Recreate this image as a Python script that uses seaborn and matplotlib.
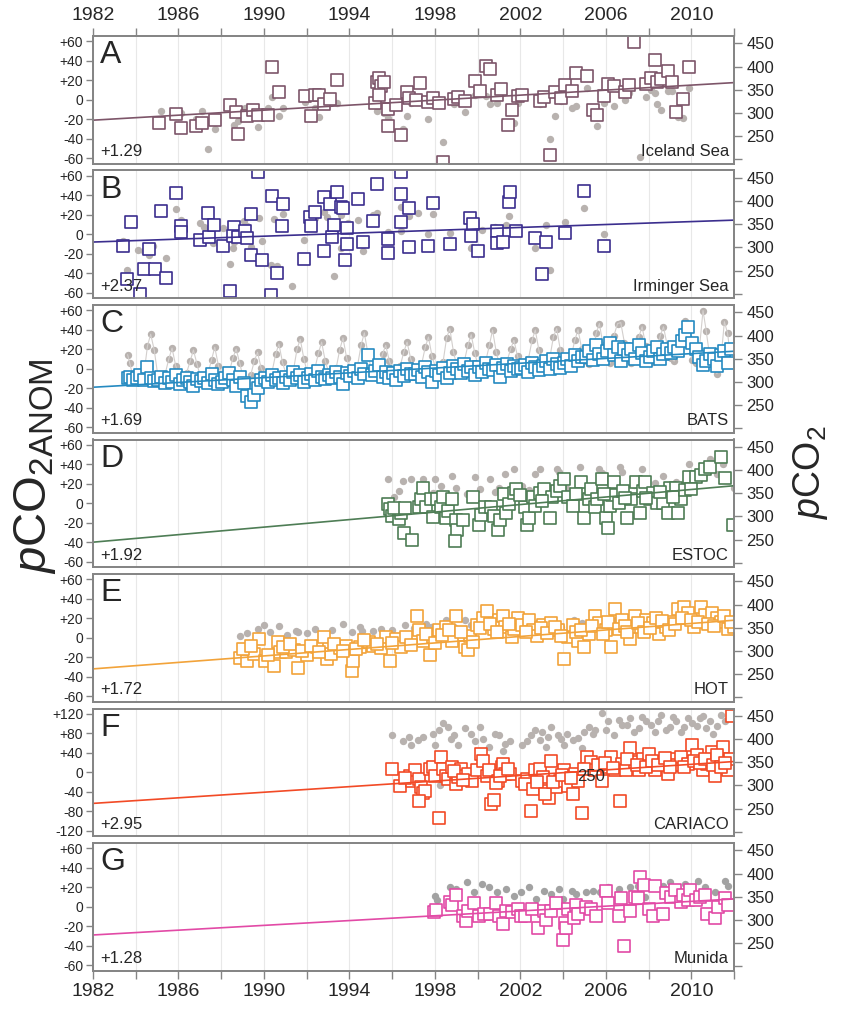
import numpy as np
import matplotlib
matplotlib.use("Agg")
import matplotlib.pyplot as plt
import seaborn as sns

# 1. Data
# Iceland Sea: squares = pCO2 anomaly (left axis), dots = pCO2 (right axis)
iceland_sq_year = [1985.1, 1985.9, 1986.1, 1986.8, 1987.1, 1987.7, 1988.4, 1988.7, 1988.8, 1989.2,
                   1989.5, 1989.7, 1990.2, 1990.4, 1990.7, 1991.9, 1992.2, 1992.4, 1992.6, 1992.8,
                   1993.1, 1993.4, 1995.2, 1995.3, 1995.4, 1995.5, 1995.6, 1995.4, 1995.8, 1995.8,
                   1996.2, 1996.4, 1996.7, 1996.8, 1997.1, 1997.3, 1997.7, 1997.9, 1998.2, 1998.4,
                   1998.9, 1999.1, 1999.4, 1999.9, 2000.1, 2000.4, 2000.6, 2000.9, 2001.1, 2001.6,
                   2001.4, 2001.9, 2002.1, 2002.9, 2003.1, 2003.4, 2003.6, 2003.9, 2004.1, 2004.4,
                   2004.6, 2005.1, 2005.4, 2005.6, 2005.9, 2006.1, 2006.4, 2006.9, 2007.1, 2007.3,
                   2007.9, 2008.1, 2008.3, 2008.4, 2008.6, 2008.9, 2009.1, 2009.3, 2009.6, 2009.9]
iceland_sq_anom = [-24, -15, -29, -27, -24, -21, -5, -13, -35, -17,
                   -11, -16, -16, 34, 8, 4, -17, 5, 5, -4,
                   1, 20, -3, 18, 22, 14, 18, 5, -9, -27,
                   -5, -36, 8, 2, 0, 17, -2, 2, -3, -64,
                   1, 3, -1, 19, 9, 35, 32, 5, 11, -11,
                   -26, 4, 5, -1, 3, -57, 8, 2, 15, 9,
                   27, 24, -11, -16, 4, 16, 14, 8, 15, 59,
                   16, 22, 41, 18, 21, 30, 18, -13, 1, 34]
iceland_dot_year = [1985.2, 1986.1, 1986.8, 1987.1, 1987.4, 1987.7, 1988.6, 1988.8, 1989.1, 1989.7,
                    1990.2, 1990.4, 1990.7, 1990.9, 1991.9, 1992.4, 1992.6, 1993.4, 1995.3, 1995.6,
                    1995.8, 1996.1, 1996.5, 1996.7, 1996.9, 1997.7, 1998.4, 1998.9, 1999.4, 1999.9,
                    2000.4, 2000.6, 2000.9, 2001.7, 2001.9, 2002.9, 2003.4, 2003.6, 2003.9, 2004.4,
                    2004.6, 2005.1, 2005.6, 2005.9, 2006.4, 2006.9, 2007.1, 2007.6, 2007.9, 2008.1,
                    2008.3, 2008.4, 2008.6, 2008.9, 2009.1, 2009.4, 2009.6, 2009.9]
iceland_dot_pco2 = [304, 299, 288, 304, 223, 265, 273, 282, 311, 269,
                    311, 334, 294, 311, 324, 311, 291, 321, 305, 300,
                    290, 324, 265, 294, 322, 286, 237, 319, 301, 339,
                    336, 319, 322, 278, 322, 319, 244, 294, 326, 311,
                    315, 353, 271, 322, 316, 328, 344, 204, 335, 349,
                    344, 319, 307, 347, 347, 291, 290, 353]

# Irminger Sea
irminger_sq_year = [1983.4, 1983.8, 1983.6, 1984.2, 1984.6, 1984.4, 1984.9, 1985.2, 1985.4, 1985.9,
                    1986.1, 1986.1, 1987.0, 1987.4, 1987.45, 1987.65, 1988.1, 1988.4, 1988.6, 1988.55,
                    1988.8, 1989.1, 1989.2, 1989.4, 1989.4, 1989.7, 1989.9, 1990.4, 1990.35, 1990.6,
                    1990.9, 1990.85, 1991.86, 1992.15, 1992.2, 1992.4, 1992.8, 1992.8, 1993.1, 1993.2,
                    1993.3, 1993.4, 1993.6, 1993.7, 1993.8, 1993.9, 1993.9, 1994.4, 1994.65, 1995.1,
                    1995.3, 1995.8, 1995.8, 1996.4, 1996.4, 1996.4, 1996.8, 1996.8, 1997.7, 1997.9,
                    1998.7, 1999.65, 1999.8, 1999.7, 2000.0, 2000.9, 2000.9, 2001.2, 2001.45, 2001.5,
                    2001.8, 2002.7, 2003.0, 2003.2, 2004.1, 2005.0, 2005.9]
irminger_sq_anom = [-12, 13, -46, -61, -15, -36, -36, 24, -45, 42,
                    8, 2, -6, 22, -3, 10, -12, -58, 7, -2,
                    -3, 3, -4, 21, -21, 64, -26, 39, -62, -40,
                    31, 8, -25, 18, 8, 23, -17, 38, 31, -3,
                    9, 43, 28, 27, -26, -10, 6, 36, -8, 14,
                    52, -5, -19, 64, 41, 13, 27, -13, -12, 32,
                    -10, 17, 11, -2, -17, 3, -9, -8, 33, 43,
                    3, -4, -41, -8, 1, 44, -12]
irminger_dot_year = [1983.4, 1983.6, 1984.1, 1984.4, 1984.6, 1984.8, 1985.4, 1985.9, 1986.1, 1986.15,
                     1987.0, 1987.2, 1987.4, 1987.6, 1988.1, 1988.4, 1988.55, 1988.6, 1989.05, 1989.2,
                     1989.4, 1989.75, 1989.9, 1990.45, 1990.35, 1990.6, 1990.9, 1991.3, 1991.86, 1992.2,
                     1992.4, 1992.8, 1992.95, 1993.1, 1993.3, 1993.6, 1993.6, 1993.8, 1993.95, 1994.4,
                     1994.65, 1995.1, 1995.3, 1995.8, 1996.4, 1996.4, 1996.8, 1997.2, 1997.7, 1997.9,
                     1998.7, 1999.7, 1999.75, 2000.2, 2000.8, 2001.45, 2001.35, 2002.7, 2003.0, 2003.2,
                     2003.4, 2004.1, 2005.0, 2005.9]
irminger_dot_pco2 = [313, 252, 294, 292, 284, 304, 278, 383, 360, 351,
                     353, 345, 336, 309, 343, 265, 299, 311, 357, 347,
                     301, 364, 315, 362, 263, 261, 372, 217, 316, 371,
                     364, 376, 366, 322, 238, 370, 299, 315, 353, 360,
                     292, 370, 374, 334, 387, 335, 368, 374, 328, 372,
                     331, 299, 301, 337, 345, 368, 349, 298, 250, 349,
                     252, 355, 386, 330]

# BATS: dots and squares share sampling times
bats_time = [1983.62, 1983.72, 1983.87,
             1984.05, 1984.20, 1984.38, 1984.55, 1984.70, 1984.87,
             1985.05, 1985.20, 1985.38, 1985.55, 1985.70, 1985.87,
             1986.05, 1986.20, 1986.38, 1986.55, 1986.70, 1986.87,
             1987.05, 1987.20, 1987.38, 1987.55, 1987.70, 1987.87,
             1988.05, 1988.20, 1988.38, 1988.55, 1988.70, 1988.87,
             1989.05, 1989.20, 1989.38, 1989.55, 1989.70, 1989.87,
             1990.05, 1990.20, 1990.38, 1990.55, 1990.70, 1990.87,
             1991.05, 1991.20, 1991.38, 1991.55, 1991.70, 1991.87,
             1992.05, 1992.20, 1992.38, 1992.55, 1992.70, 1992.87,
             1993.05, 1993.20, 1993.38, 1993.55, 1993.70, 1993.87,
             1994.05, 1994.20, 1994.38, 1994.55, 1994.70, 1994.87,
             1995.05, 1995.20, 1995.38, 1995.55, 1995.70, 1995.87,
             1996.05, 1996.20, 1996.38, 1996.55, 1996.70, 1996.87,
             1997.05, 1997.20, 1997.38, 1997.55, 1997.70, 1997.87,
             1998.05, 1998.20, 1998.38, 1998.55, 1998.70, 1998.87,
             1999.05, 1999.20, 1999.38, 1999.55, 1999.70, 1999.87,
             2000.05, 2000.20, 2000.38, 2000.55, 2000.70, 2000.87,
             2001.05, 2001.20, 2001.38, 2001.55, 2001.70, 2001.87,
             2002.05, 2002.20, 2002.38, 2002.55, 2002.70, 2002.87,
             2003.05, 2003.20, 2003.38, 2003.55, 2003.70, 2003.87,
             2004.05, 2004.20, 2004.38, 2004.55, 2004.70, 2004.87,
             2005.05, 2005.20, 2005.38, 2005.55, 2005.70, 2005.87,
             2006.05, 2006.20, 2006.38, 2006.55, 2006.70, 2006.87,
             2007.05, 2007.20, 2007.38, 2007.55, 2007.70, 2007.87,
             2008.05, 2008.20, 2008.38, 2008.55, 2008.70, 2008.87,
             2009.05, 2009.20, 2009.38, 2009.55, 2009.70, 2009.87,
             2010.05, 2010.20, 2010.38, 2010.55, 2010.70, 2010.87,
             2011.05, 2011.20, 2011.38, 2011.55, 2011.70, 2011.87]
bats_pco2 = [359, 340, 312,
             308, 300, 315, 378, 403, 368,
             308, 300, 318, 350, 373, 335,
             310, 302, 320, 345, 369, 338,
             308, 300, 318, 348, 375, 335,
             310, 302, 322, 352, 371, 340,
             305, 296, 315, 345, 364, 330,
             312, 305, 322, 360, 382, 342,
             315, 308, 325, 371, 392, 350,
             316, 308, 328, 362, 386, 345,
             318, 310, 330, 370, 395, 352,
             322, 315, 335, 380, 406, 360,
             322, 315, 332, 360, 379, 345,
             323, 315, 335, 365, 386, 350,
             325, 318, 338, 375, 397, 355,
             328, 320, 342, 395, 415, 365,
             330, 322, 345, 380, 402, 362,
             330, 322, 345, 379, 412, 365,
             333, 325, 345, 372, 390, 355,
             335, 328, 350, 390, 412, 368,
             338, 330, 352, 398, 415, 370,
             340, 333, 355, 390, 413, 372,
             345, 338, 360, 405, 426, 380,
             348, 340, 400, 426, 428, 385,
             348, 340, 362, 398, 419, 378,
             350, 342, 365, 400, 419, 380,
             352, 345, 368, 410, 432, 385,
             348, 340, 372, 454, 410, 352,
             335, 318, 345, 430, 405, 340]
bats_anom = [-10, -8, -12,
             -10, -6, -12, 2, -9, -13,
             -12, -8, -15, -10, -14, -6,
             -16, -12, -9, -14, -18, -11,
             -13, -9, -15, -5, -12, -16,
             -14, -10, -4, -12, -18, -8,
             -15, -28, -34, -27, -20, -12,
             -10, -14, -6, -12, -9, -15,
             -8, -12, -3, -10, -6, -14,
             -9, -5, -12, -2, -8, -11,
             -6, -10, -3, -8, -16, -4,
             -7, -2, -10, 0, -5, 14,
             -6, -2, 4, -8, -3, -10,
             -4, -12, -2, -7, 0, -5,
             -5, -1, -8, 2, -3, -14,
             -2, -6, 1, -9, -4, 3,
             0, -4, 5, -2, 2, -6,
             2, -3, 6, 0, -1, 4,
             -8, 1, 5, -2, 3, 0,
             1, 4, -3, 6, 2, -1,
             3, 8, 0, 10, 5, 1,
             6, 10, 3, 14, 8, 12,
             12, 18, 9, 24, 15, 10,
             18, 26, 14, 22, 8, 20,
             14, 20, 10, 24, 16, 8,
             12, 18, 22, 10, 15, 20,
             16, 22, 18, 28, 35, 43,
             26, 20, 12, 4, 8, 15,
             10, 3, 14, 18, 6, 20]

# ESTOC
estoc_sq_year = [1995.8, 1995.9, 1996.0, 1996.3, 1996.4, 1996.55, 1996.95, 1996.1, 1996.6, 1997.25,
                 1997.35, 1997.45, 1997.6, 1997.8, 1997.9, 1998.1, 1998.3, 1998.4, 1998.5, 1998.6,
                 1998.8, 1999.0, 1999.05, 1998.95, 1999.3, 1999.8, 2000.06, 2000.15, 2000.35, 2000.65,
                 2000.75, 2000.95, 2001.05, 2001.25, 2001.35, 2001.45, 2001.7, 2001.8, 2002.2, 2002.3,
                 2002.4, 2002.6, 2002.7, 2002.9, 2003.1, 2003.4, 2003.5, 2003.7, 2003.85, 2004.05,
                 2004.25, 2004.45, 2004.85, 2005.0, 2005.2, 2005.3, 2005.5, 2005.6, 2005.8, 2006.0,
                 2006.1, 2006.2, 2006.3, 2006.4, 2006.6, 2006.8, 2007.0, 2007.2, 2007.4, 2007.6,
                 2007.75, 2007.85, 2008.05, 2008.2, 2008.4, 2008.7, 2008.9, 2009.0, 2009.3, 2009.4,
                 2009.5, 2009.9, 2010.2, 2010.45, 2010.65, 2010.9, 2011.4, 2011.6, 2011.95, 2002.0,
                 2003.0, 2004.6, 2005.9, 2006.9, 2007.9, 2008.55, 2009.15, 2009.7, 2010.0]
estoc_sq_anom = [-1, -6, -13, -16, -10, -31, -38, -5, -5, -4,
                 4, 16, -4, 4, -14, 4, -4, 6, -15, -8,
                 4, -17, -27, -39, -17, 6, -22, -12, -4, -4,
                 -13, -27, -17, 9, -10, -1, 11, 15, -4, -22,
                 -15, 6, -3, 11, 15, -15, 6, 13, 18, 25,
                 6, -3, 22, -15, 4, 15, -4, 4, 25, -15,
                 -25, -3, 8, 22, 0, 13, -15, 4, 22, -10,
                 13, 22, 4, 11, 0, 0, -10, 16, 16, -10,
                 4, 27, 27, 29, 35, 37, 48, 26, -22, 8,
                 2, 10, 9, 5, 5, 12, 6, 14, 15]
estoc_dot_year = [1995.8, 1996.1, 1996.5, 1996.9, 1997.45, 1998.0, 1998.3, 1998.8, 1999.0, 1999.9,
                  2000.1, 2000.6, 2001.0, 2001.3, 2001.7, 2002.1, 2002.7, 2002.9, 2003.7, 2003.8,
                  2004.8, 2005.7, 2005.8, 2006.65, 2006.75, 2007.7, 2008.7, 2009.9, 2010.9, 2011.5,
                  2012.0, 1996.3, 1997.9, 1999.5, 2000.8, 2002.4, 2004.2, 2005.2, 2006.3, 2007.3,
                  2008.3, 2009.3, 2010.3, 2011.2]
estoc_dot_pco2 = [381, 341, 376, 380, 380, 380, 366, 388, 362, 385,
                  360, 380, 362, 391, 403, 366, 391, 403, 403, 395,
                  406, 403, 393, 406, 395, 403, 388, 414, 425, 414,
                  362, 355, 350, 348, 352, 358, 360, 362, 365, 368,
                  372, 375, 385, 392]

# HOT
hot_sq_year = [1988.9, 1989.2, 1989.55, 1989.75, 1990.05, 1990.45, 1990.65, 1990.75, 1991.05, 1991.4,
               1991.6, 1992.0, 1992.5, 1992.8, 1992.95, 1993.15, 1993.55, 1993.85, 1994.1, 1994.15,
               1994.5, 1994.9, 1995.1, 1995.5, 1995.7, 1995.9, 1996.2, 1996.4, 1996.65, 1997.15,
               1997.25, 1997.45, 1997.75, 1997.9, 1998.2, 1998.5, 1998.8, 1999.0, 1999.4, 1999.55,
               1999.65, 1999.95, 2000.25, 2000.45, 2000.75, 2001.0, 2001.2, 2001.3, 2001.6, 2001.7,
               2001.9, 2002.1, 2002.4, 2002.6, 2002.8, 2003.05, 2003.45, 2003.75, 2004.05, 2004.25,
               2004.45, 2004.7, 2005.0, 2005.2, 2005.5, 2005.7, 2006.0, 2006.25, 2006.45, 2006.75,
               2007.15, 2007.35, 2007.65, 2007.9, 2008.2, 2008.5, 2008.8, 2009.1, 2009.4, 2009.65,
               2009.85, 2010.15, 2010.45, 2010.65, 2010.95, 2011.2, 2011.4, 2011.7, 2012.0,
               1989.0, 1989.4, 1990.2, 1990.9, 1991.2, 1991.8, 1992.2, 1992.6, 1993.3, 1993.7,
               1994.3, 1994.7, 1995.3, 1996.0, 1996.9, 1997.6, 1998.0, 1998.35, 1998.65, 1999.2,
               1999.8, 2000.1, 2000.6, 2000.9, 2001.45, 2002.25, 2002.95, 2003.25, 2003.6, 2003.9,
               2004.6, 2004.85, 2005.35, 2005.85, 2006.1, 2006.6, 2006.9, 2007.0, 2007.5, 2007.8,
               2008.05, 2008.35, 2008.65, 2008.95, 2009.25, 2009.55, 2010.0, 2010.3, 2010.8, 2011.05,
               2011.55, 2011.85]
hot_sq_anom = [-21, -24, -17, -1, -24, -29, -4, -15, -15, -13,
               -31, -18, -10, 1, -22, -17, -11, -8, -34, -24,
               -10, -4, -8, -11, 1, -24, -1, -10, 1, 22,
               8, -3, -18, 1, 8, 11, -3, 22, -10, -13,
               2, 13, 20, 27, 9, 18, 22, 11, 1, 9,
               20, 13, 18, 8, 2, 13, 15, 8, -22, 1,
               13, -3, -10, 4, 22, 15, 8, -10, 30, 18,
               -1, 22, 11, 18, 15, 4, 11, 16, 30, 32,
               25, 11, 32, 23, 25, 20, 16, 9, 11,
               -12, -8, -18, -10, -6, -14, -8, -15, -6, -14,
               -12, -2, -6, -5, -7, 4, -5, 3, 8, 6,
               -4, 10, 14, 6, 14, 6, 10, 5, 11, 2,
               6, 8, 12, 4, 16, 9, 12, 6, 15, 6,
               10, 20, 17, 8, 14, 20, 18, 16, 14, 12,
               22, 16]
hot_dot_year = [1988.9, 1989.2, 1989.7, 1990.0, 1990.3, 1990.7, 1991.1, 1991.5, 1991.6, 1992.0,
                1992.4, 1992.8, 1993.2, 1993.7, 1994.1, 1994.5, 1994.6, 1995.1, 1995.5, 1996.0,
                1996.6, 1997.0, 1997.6, 1997.8, 1998.3, 1998.5, 1998.9, 1999.4, 1999.7, 2000.3,
                2000.7, 2001.3, 2001.8, 2002.4, 2002.8, 2003.4, 2003.9, 2004.5, 2004.9, 2005.5,
                2006.0, 2006.5, 2007.0, 2007.3, 2007.8, 2008.6, 2009.0, 2009.6, 2010.0, 2010.5,
                2011.0, 2011.4, 2012.0]
hot_dot_pco2 = [333, 338, 348, 355, 340, 353, 335, 344, 341, 338,
                348, 333, 345, 359, 340, 351, 344, 342, 348, 345,
                355, 350, 359, 351, 350, 366, 352, 366, 355, 370,
                358, 366, 358, 366, 360, 362, 352, 366, 360, 362,
                355, 366, 360, 366, 362, 366, 360, 370, 365, 373,
                368, 370, 366]

# CARIACO
cariaco_sq_year = [1996.0, 1996.35, 1996.85, 1996.95, 1997.05, 1997.25, 1997.35, 1997.45, 1997.55, 1997.25,
                   1997.75, 1997.9, 1998.0, 1998.2, 1998.3, 1998.4, 1998.5, 1998.6, 1998.8, 1999.0,
                   1999.1, 1999.2, 1999.4, 1999.55, 1999.75, 1999.95, 2000.15, 2000.25, 2000.45, 2000.55,
                   2000.65, 2000.75, 2000.95, 2001.15, 2001.2, 2001.3, 2001.5, 2002.1, 2002.3, 2002.5,
                   2002.7, 2002.9, 2003.05, 2003.25, 2003.35, 2003.45, 2003.65, 2003.85, 2004.05, 2004.25,
                   2004.45, 2004.55, 2004.7, 2004.9, 2005.1, 2005.3, 2005.5, 2005.8, 2006.1, 2006.25,
                   2006.45, 2006.65, 2006.75, 2006.95, 2007.15, 2007.35, 2007.55, 2007.75, 2008.0, 2008.3,
                   2008.6, 2008.9, 2009.1, 2009.3, 2009.5, 2009.85, 2010.05, 2010.25, 2010.55, 2010.75,
                   2010.95, 2011.1, 2011.3, 2011.5, 2011.7, 2011.9, 2011.8,
                   1996.6, 1998.9, 1999.3, 2000.85, 2001.05, 2001.4, 2002.2, 2002.6, 2002.8, 2003.15,
                   2003.55, 2003.95, 2004.35, 2005.0, 2005.65, 2005.95, 2006.35, 2007.0, 2007.45, 2007.9,
                   2008.15, 2008.45, 2008.75, 2009.0, 2009.65, 2010.15, 2010.4, 2010.65, 2011.0, 2011.2,
                   2011.4, 2011.6]
cariaco_sq_anom = [7, -28, -7, -17, 4, -14, -31, -42, -38, -59,
                   7, 10, -7, -94, 31, 7, -7, -14, 10, -24,
                   -10, 7, -7, -4, -17, 4, 38, 24, -7, 4,
                   -66, -56, -17, 10, 17, -4, -4, -17, -14, -80,
                   4, 7, -10, -38, -52, 24, -31, -17, 4, -28,
                   -45, -4, -17, -83, 31, 21, 4, -17, 10, 31,
                   4, -59, 17, 4, 49, 21, 4, 28, 38, 4,
                   21, -4, 28, 14, 31, 17, 56, 35, 4, 17,
                   42, -7, 24, 52, 4, 115, 28,
                   -12, 2, -15, -22, -8, 6, -24, -35, -20, -45,
                   -20, -5, -12, 6, 14, 20, 8, 28, 14, 10,
                   24, 14, 30, 10, 10, 24, 20, 28, 14, 35,
                   10, 20]
cariaco_dot_year = [1996.0, 1996.8, 1996.9, 1997.45, 1997.9, 1998.0, 1998.4, 1998.6, 1998.9, 1999.1,
                    1999.4, 1999.7, 2000.1, 2000.25, 2000.55, 2001.0, 2001.3, 2002.1, 2002.5, 2002.7,
                    2003.0, 2003.2, 2003.45, 2003.75, 2004.05, 2004.45, 2005.0, 2005.2, 2005.5, 2005.8,
                    2006.1, 2006.4, 2006.75, 2007.15, 2007.55, 2007.9, 2008.3, 2008.6, 2009.0, 2009.3,
                    2009.65, 2010.05, 2010.4, 2010.7, 2011.0, 2011.4, 2011.8,
                    1996.5, 1997.2, 1998.2, 1998.75, 1999.9, 2000.8, 2001.5, 2001.2, 2002.3, 2002.9,
                    2003.3, 2003.9, 2004.2, 2004.7, 2004.9, 2005.4, 2006.0, 2006.6, 2007.0, 2007.3,
                    2007.7, 2008.1, 2008.45, 2008.8, 2009.15, 2009.5, 2009.85, 2010.25, 2010.55, 2010.9,
                    2011.2, 2011.6, 1998.25]
cariaco_dot_pco2 = [409, 405, 387, 405, 412, 387, 435, 427, 409, 387,
                    424, 412, 427, 401, 383, 409, 390, 387, 409, 420,
                    416, 383, 427, 409, 387, 398, 416, 427, 420, 457,
                    438, 409, 431, 446, 424, 438, 416, 453, 427, 438,
                    427, 435, 446, 424, 412, 453, 460,
                    395, 398, 420, 400, 395, 410, 395, 375, 395, 398,
                    405, 400, 410, 402, 380, 410, 420, 442, 430, 415,
                    448, 430, 440, 420, 448, 416, 445, 428, 450, 438,
                    428, 440, 302]

# Munida
munida_sq_year = [1997.98, 1998.05, 1998.7, 1998.8, 1999.0, 1999.3, 1999.45, 1999.55, 1999.85, 2000.05,
                  2000.3, 2000.6, 2000.85, 2001.0, 2001.2, 2001.35, 2001.6, 2001.9, 2002.05, 2002.2,
                  2002.55, 2002.85, 2003.1, 2003.2, 2003.45, 2003.65, 2004.0, 2004.1, 2004.15, 2004.25,
                  2004.5, 2004.6, 2004.7, 2005.05, 2005.3, 2005.55, 2006.0, 2006.1, 2006.6, 2006.7,
                  2006.85, 2007.15, 2007.35, 2007.5, 2007.6, 2007.8, 2008.0, 2008.2, 2008.3, 2008.7,
                  2008.8, 2009.05, 2009.25, 2009.5, 2009.6, 2009.85, 2009.95, 2010.2, 2010.4, 2010.65,
                  2010.75, 2011.1, 2011.25, 2011.6, 2011.7]
munida_sq_anom = [-5, -3, 5, 2, 12, -10, -15, -4, 4, -9,
                  -7, -7, 4, -10, -18, -4, -5, -2, -10, -9,
                  -2, -22, -4, -14, -4, 4, -34, -17, -22, -2,
                  -12, 2, -7, 0, -2, -10, 16, 4, -10, 9,
                  -40, -4, 10, 9, 31, 22, -2, -10, 21, -7,
                  14, 10, 17, 5, 12, 7, 17, 7, 10, 12,
                  -7, -12, 0, 9, 2]
munida_dot_year = [1998.0, 1998.1, 1998.7, 1999.0, 1999.5, 1999.85, 2000.2, 2000.55, 2000.9, 2001.35,
                   2001.7, 2002.05, 2002.4, 2002.75, 2003.1, 2003.45, 2003.8, 2004.0, 2004.4, 2004.6,
                   2005.05, 2005.4, 2005.75, 2006.1, 2006.6, 2007.15, 2007.5, 2007.85, 2008.2, 2008.7,
                   2009.0, 2009.4, 2009.7, 2010.3, 2010.65, 2011.1, 2011.6, 2011.7]
munida_dot_pco2 = [352, 342, 371, 367, 382, 360, 378, 371, 360, 367,
                   352, 360, 371, 345, 363, 356, 367, 345, 363, 356,
                   360, 363, 360, 371, 367, 371, 374, 349, 378, 374,
                   382, 367, 378, 385, 371, 360, 385, 374]

# station names, letters, trend labels and trend line ends (anomaly at 1982 and 2012)
station_names = ["Iceland Sea", "Irminger Sea", "BATS", "ESTOC", "HOT", "CARIACO", "Munida"]
panel_letters = ["A", "B", "C", "D", "E", "F", "G"]
trend_labels = ["+1.29", "+2.37", "+1.69", "+1.92", "+1.72", "+2.95", "+1.28"]
trend_start = [-21, -8, -19, -40, -32, -64, -29]
trend_end = [17.6, 14.5, 18, 18, 18, 22, 8]

year_ticks = list(range(1982, 2013, 2))
year_labels = [str(y) if (y - 1982) % 4 == 0 else "" for y in year_ticks]

# 2. Styles
colors = ["#7d5569", "#3b2e8e", "#258ac1", "#4e7d55", "#f2a33a", "#f24a26", "#e24aa6"]
dot_colors = ["#b8b2af"] * 6 + ["#a2a2a2"]
frame_col = "#858585"

sns.set_theme(style="white")
plt.rcParams['font.family'] = ['Liberation Sans', 'DejaVu Sans']
plt.rcParams['mathtext.fontset'] = 'custom'
plt.rcParams['mathtext.rm'] = 'Liberation Sans'
plt.rcParams['mathtext.it'] = 'Liberation Sans:italic'

squares = [(iceland_sq_year, iceland_sq_anom), (irminger_sq_year, irminger_sq_anom),
           (bats_time, bats_anom), (estoc_sq_year, estoc_sq_anom), (hot_sq_year, hot_sq_anom),
           (cariaco_sq_year, cariaco_sq_anom), (munida_sq_year, munida_sq_anom)]
dots = [(iceland_dot_year, iceland_dot_pco2), (irminger_dot_year, irminger_dot_pco2),
        (bats_time, bats_pco2), (estoc_dot_year, estoc_dot_pco2), (hot_dot_year, hot_dot_pco2),
        (cariaco_dot_year, cariaco_dot_pco2), (munida_dot_year, munida_dot_pco2)]

# 3. Figure: seven stacked panels, pCO2 on the right axis, anomaly on the left
fig = plt.figure(figsize=(8.42, 10.15), dpi=100)
W, H = 842, 1015

for i in range(7):
    top = 36 + 134.5 * i
    ax = fig.add_axes([93 / W, 1 - (top + 127.5) / H, 641 / W, 127.5 / H])
    ax_anom = ax.twinx()
    ax.yaxis.tick_right()
    ax_anom.yaxis.tick_left()

    # gray pCO2 dots (right axis)
    if i == 2:
        sns.lineplot(x=dots[i][0], y=dots[i][1], ax=ax, color="#d3cfcd", lw=0.8,
                     estimator=None, sort=False)
    sns.scatterplot(x=dots[i][0], y=dots[i][1], ax=ax, color=dot_colors[i], s=28,
                    linewidth=0, legend=False)
    ax.set_ylim(191, 466)
    ax.set_yticks([200, 250, 300, 350, 400, 450])
    ax.set_yticklabels(["", "250", "300", "350", "400", "450"])

    # trend line + anomaly squares (left axis)
    sns.lineplot(x=[1982, 2012], y=[trend_start[i], trend_end[i]], ax=ax_anom,
                 color=colors[i], lw=1.2)
    sns.scatterplot(x=squares[i][0], y=squares[i][1], ax=ax_anom, marker="s", s=70,
                    color="white", edgecolor=colors[i], linewidth=1.2, legend=False)
    if i == 5:
        ax_anom.set_ylim(-131, 131)
        ticks = [-120, -80, -40, 0, 40, 80, 120]
    else:
        ax_anom.set_ylim(-65.5, 65.5)
        ticks = [-60, -40, -20, 0, 20, 40, 60]
    ax_anom.set_yticks(ticks)
    ax_anom.set_yticklabels([("+" if t > 0 else "") + str(t) for t in ticks])

    ax.set_xlim(1982, 2012)
    ax.set_xticks(year_ticks)
    ax.set_xticklabels(year_labels)
    ax.grid(True, axis="x", color="#e8e8e8", lw=0.8)
    ax.set_axisbelow(True)
    ax.set_xlabel("")
    ax.set_ylabel("")
    ax_anom.set_xlabel("")
    ax_anom.set_ylabel("")

    ax.tick_params(axis="y", right=True, left=False, length=6, width=1, color=frame_col,
                   labelsize=12, pad=3)
    ax_anom.tick_params(axis="y", left=True, right=False, length=5, width=1, color=frame_col,
                        labelsize=10, pad=2)
    if i == 0:
        ax.tick_params(axis="x", top=True, bottom=False, labeltop=True, labelbottom=False,
                       length=6, width=1, color=frame_col, labelsize=14, pad=3)
    elif i == 6:
        ax.tick_params(axis="x", top=False, bottom=True, labeltop=False, labelbottom=True,
                       length=6, width=1, color=frame_col, labelsize=14, pad=3)
    else:
        ax.tick_params(axis="x", top=False, bottom=False, labeltop=False, labelbottom=False)

    for a in (ax, ax_anom):
        for sp in a.spines.values():
            sp.set_color(frame_col)
            sp.set_linewidth(1.3)

    ax_anom.text(0.011, 0.965, panel_letters[i], transform=ax_anom.transAxes,
                 fontsize=23, ha="left", va="top")
    ax_anom.text(0.011, 0.035, trend_labels[i], transform=ax_anom.transAxes,
                 fontsize=12, ha="left", va="bottom")
    ax_anom.text(0.992, 0.035, station_names[i], transform=ax_anom.transAxes,
                 fontsize=12, ha="right", va="bottom")
    if i == 5:
        # stray label printed inside the CARIACO panel, on top of the squares
        ax_anom.text(2005.3, 320, "250", transform=ax.transData, fontsize=12,
                     ha="center", va="center", zorder=10)

# axis titles
fig.text(0.042, 0.541, r"$p\mathrm{CO}_{2\mathrm{ANOM}}$", rotation=90, fontsize=34,
         ha="center", va="center")
fig.text(0.963, 0.535, r"$p\mathrm{CO}_{2}$", rotation=90, fontsize=27,
         ha="center", va="center")

plt.savefig("out.png", dpi=100)
